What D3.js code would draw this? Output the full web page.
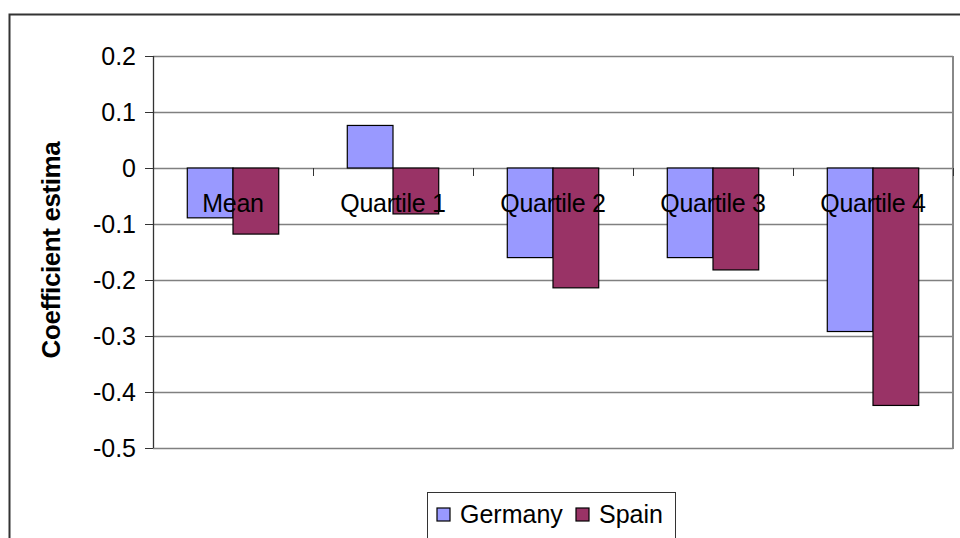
<!DOCTYPE html>
<html>
<head>
<meta charset="utf-8">
<script src="https://cdn.jsdelivr.net/npm/d3@7"></script>
<style>
  body { margin: 0; background: #fff; }
  svg { display: block; font-family: "Liberation Sans", Arial, sans-serif; }
</style>
</head>
<body>
<svg id="chart" width="960" height="538"></svg>
<script>
// chart values
const categories = ["Mean", "Quartile 1", "Quartile 2", "Quartile 3", "Quartile 4"];
const seriesNames = ["Germany", "Spain"];
const germany = [-0.089, 0.076, -0.160, -0.160, -0.292];
const spain = [-0.118, -0.082, -0.214, -0.182, -0.424];
const yTicks = [0.2, 0.1, 0, -0.1, -0.2, -0.3, -0.4, -0.5];
const seriesColors = ["#9999FF", "#993366"];

const svg = d3.select("#chart");
const plot = {left: 153, right: 953, top: 56, bottom: 448};

// outer chart frame (only top and left are in view)
svg.append("path")
    .attr("d", "M9.5,538V14.5H960")
    .attr("fill", "none")
    .attr("stroke", "#333")
    .attr("stroke-width", 2);

const y = d3.scaleLinear().domain([-0.5, 0.2]).range([plot.bottom, plot.top]);
const x = d3.scaleBand().domain(categories).range([plot.left, plot.right]);
const bw = x.bandwidth() / 3.5; // excel gap width 150%
const x1 = d3.scaleBand().domain(seriesNames)
    .range([bw * 0.75, x.bandwidth() - bw * 0.75]);

// gridlines + y axis labels
const yAxis = svg.append("g")
    .attr("transform", `translate(${plot.left},0)`)
    .call(d3.axisLeft(y).tickValues(yTicks).tickFormat(d3.format("")).tickSize(8).tickPadding(9));
yAxis.select(".domain").remove();
yAxis.selectAll(".tick line").attr("stroke", "#333");
yAxis.selectAll(".tick text")
    .attr("font-size", 25)
    .attr("fill", "#000")
    .text(d => d === 0 ? "0" : d.toFixed(1));

svg.append("g").selectAll("line")
    .data(yTicks)
    .join("line")
    .attr("x1", plot.left).attr("x2", plot.right)
    .attr("y1", d => Math.round(y(d)) + 0.5).attr("y2", d => Math.round(y(d)) + 0.5)
    .attr("stroke", "#808080")
    .attr("stroke-width", 1.3);

// plot area right border
svg.append("line")
    .attr("x1", plot.right).attr("x2", plot.right)
    .attr("y1", plot.top).attr("y2", plot.bottom + 1)
    .attr("stroke", "#888").attr("stroke-width", 2);

// category ticks on the zero line
svg.append("g").selectAll("line")
    .data(categories.concat([null]))
    .join("line")
    .attr("x1", (d, i) => plot.left + i * x.step() + 0.5)
    .attr("x2", (d, i) => plot.left + i * x.step() + 0.5)
    .attr("y1", y(0)).attr("y2", y(0) + 8)
    .attr("stroke", "#333");

// y axis line
svg.append("line")
    .attr("x1", plot.left + 0.5).attr("x2", plot.left + 0.5)
    .attr("y1", plot.top).attr("y2", plot.bottom)
    .attr("stroke", "#333").attr("stroke-width", 1.3);

// bars
const rows = categories.map((c, i) => ({cat: c, vals: [germany[i], spain[i]]}));
svg.append("g").selectAll("g")
    .data(rows)
    .join("g")
    .attr("transform", d => `translate(${x(d.cat)},0)`)
    .selectAll("rect")
    .data(d => d.vals.map((v, j) => ({name: seriesNames[j], v: v, j: j})))
    .join("rect")
    .attr("x", d => x1(d.name))
    .attr("width", x1.bandwidth())
    .attr("y", d => y(Math.max(0, d.v)))
    .attr("height", d => Math.abs(y(d.v) - y(0)))
    .attr("fill", d => seriesColors[d.j])
    .attr("stroke", "#000")
    .attr("stroke-width", 1.2);

// category labels, drawn across the bars as in the original
svg.append("g").selectAll("text")
    .data(categories)
    .join("text")
    .attr("x", d => x(d) + x.bandwidth() / 2)
    .attr("y", y(0) + 44)
    .attr("text-anchor", "middle")
    .attr("font-size", 25)
    .attr("letter-spacing", -0.3)
    .attr("fill", "#000")
    .text(d => d);

// y axis title (clipped in the original)
svg.append("text")
    .attr("transform", "translate(60,250) rotate(-90)")
    .attr("text-anchor", "middle")
    .attr("font-size", 26)
    .attr("font-weight", "bold")
    .attr("letter-spacing", -0.4)
    .text("Coefficient estima");

// legend
const lg = svg.append("g");
lg.append("rect")
    .attr("x", 427.5).attr("y", 492.5)
    .attr("width", 248).attr("height", 46)
    .attr("fill", "#fff").attr("stroke", "#333");
const lx = [437, 576];
seriesNames.forEach((s, i) => {
    lg.append("rect")
        .attr("x", lx[i]).attr("y", 508)
        .attr("width", 13).attr("height", 13)
        .attr("fill", seriesColors[i])
        .attr("stroke", "#000").attr("stroke-width", 1.2);
    lg.append("text")
        .attr("x", lx[i] + 23).attr("y", 523)
        .attr("font-size", 25)
        .attr("fill", "#000")
        .text(s);
});
</script>
</body>
</html>
